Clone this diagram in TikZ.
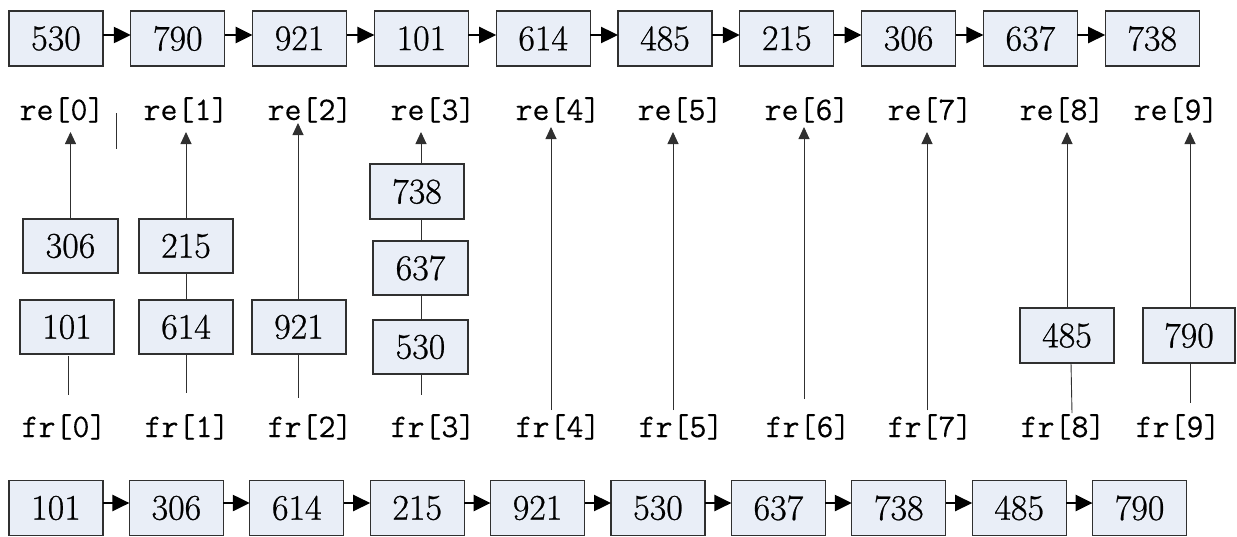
\documentclass[tikz,border=0pt]{standalone}
\usepackage{fontspec}
\setmainfont{Latin Modern Roman}
\newfontfamily\numfont[AutoFakeBold=0.7]{Latin Modern Roman}
\newfontfamily\lblfont[AutoFakeBold=0.15]{Latin Modern Mono}
\usetikzlibrary{arrows.meta}
\definecolor{boxfill}{HTML}{E9EEF7}
\definecolor{edge}{HTML}{303030}
\begin{document}
\begin{tikzpicture}[x=1pt,y=-1pt,
  cell/.style={draw=edge, fill=boxfill, line width=1.1pt, minimum width=94pt, minimum height=55pt,
    inner sep=0pt, outer sep=0pt, font=\numfont\bfseries\fontsize{36}{38}\selectfont},
  lbl/.style={anchor=base, inner sep=0pt, font=\lblfont\bfseries\fontsize{33}{34}\selectfont},
  link/.style={line width=2.4pt, -{Triangle[length=17pt,width=16pt]}},
  up/.style={draw=edge, line width=0.9pt, -{Triangle[length=12pt,width=11pt]}},
  seg/.style={draw=edge, line width=0.9pt}]
\useasboundingbox (0,0) rectangle (1237,536);
% top row
\foreach \v [count=\i from 0] in {530,790,921,101,614,485,215,306,637,738}{
  \node[cell] (t\i) at ({56+121.8*\i},38.5) {\v};
}
\foreach \i [evaluate=\i as \j using int(\i+1)] in {0,...,8}{
  \draw[link] ([yshift=3.5pt]t\i.east) -- ([yshift=3.5pt]t\j.west);
}
% bottom row
\foreach \v [count=\i from 0] in {101,306,614,215,921,530,637,738,485,790}{
  \node[cell] (b\i) at ({56+120.4*\i},508) {\v};
}
\foreach \i [evaluate=\i as \j using int(\i+1)] in {0,...,8}{
  \draw[link] ([yshift=5pt]b\i.east) -- ([yshift=5pt]b\j.west);
}
% labels
\foreach \x [count=\i from 0] in {62,186,310,433,558,680,807,930,1062,1176}{
  \node[lbl] (re\i) at (\x,120) {re[\i]};
}
\foreach \x [count=\i from 0] in {64,187,310,433,558,681,808,930,1063,1178}{
  \node[lbl] (fr\i) at (\x,437) {fr[\i]};
}
% middle boxes
\node[cell, minimum width=95pt, minimum height=54pt] (m306) at (70.5,246) {306};
\node[cell, minimum height=54pt] (m101) at (67,327) {101};
\node[cell, minimum height=54pt] (m215) at (186,246) {215};
\node[cell, minimum height=54pt] (m614) at (186,327) {614};
\node[cell, minimum height=54pt] (m921) at (299,327) {921};
\node[cell] (m738) at (417,191.5) {738};
\node[cell, minimum width=95pt, minimum height=54pt] (m637) at (420.5,268) {637};
\node[cell, minimum width=95pt, minimum height=54pt] (m530) at (420.5,347) {530};
\node[cell] (m485) at (1067,335.5) {485};
\node[cell, minimum width=92pt] (m790) at (1189,335.5) {790};
% free ends
\coordinate (a0) at (70.5,132);
\coordinate (a1) at (186,132);
\coordinate (a2) at (298,123);
\coordinate (a3) at (421,132);
\coordinate (a4) at (551,127);
\coordinate (a5) at (673,132);
\coordinate (a6) at (804,127);
\coordinate (a7) at (927,132);
\coordinate (a8) at (1067,132);
\coordinate (a9) at (1190,132);
\coordinate (f0) at (68,395);
\coordinate (g0) at (68,356);
\coordinate (f1) at (186,393);
\coordinate (f2) at (298,398);
\coordinate (f3) at (421,395);
\coordinate (f4) at (551,410);
\coordinate (f5) at (673,410);
\coordinate (f6) at (804,399);
\coordinate (f7) at (927,410);
\coordinate (g8) at (1071,363);
\coordinate (f8) at (1072,413);
\coordinate (f9) at (1190,403);
\coordinate (s1) at (116,113);
\coordinate (s2) at (116,149);
% arrows up
\draw[up] (m306.north) -- (a0);
\draw[up] (m215.north) -- (a1);
\draw[up] (m921.north -| a2) -- (a2);
\draw[up] (m738.north -| a3) -- (a3);
\draw[up] (f4) -- (a4);
\draw[up] (f5) -- (a5);
\draw[up] (f6) -- (a6);
\draw[up] (f7) -- (a7);
\draw[up] (m485.north) -- (a8);
\draw[up] (m790.north -| a9) -- (a9);
% segments
\draw[seg] (g0) -- (f0);
\draw[seg] (m215.south) -- (m614.north);
\draw[seg] (m614.south) -- (f1);
\draw[seg] (m921.south -| f2) -- (f2);
\draw[seg] (m738.south -| f3) -- (m637.north -| f3);
\draw[seg] (m637.south -| f3) -- (m530.north -| f3);
\draw[seg] (m530.south -| f3) -- (f3);
\draw[seg] (g8) -- (f8);
\draw[seg] (m790.south -| f9) -- (f9);
\draw[seg] (s1) -- (s2);
\end{tikzpicture}
\end{document}
